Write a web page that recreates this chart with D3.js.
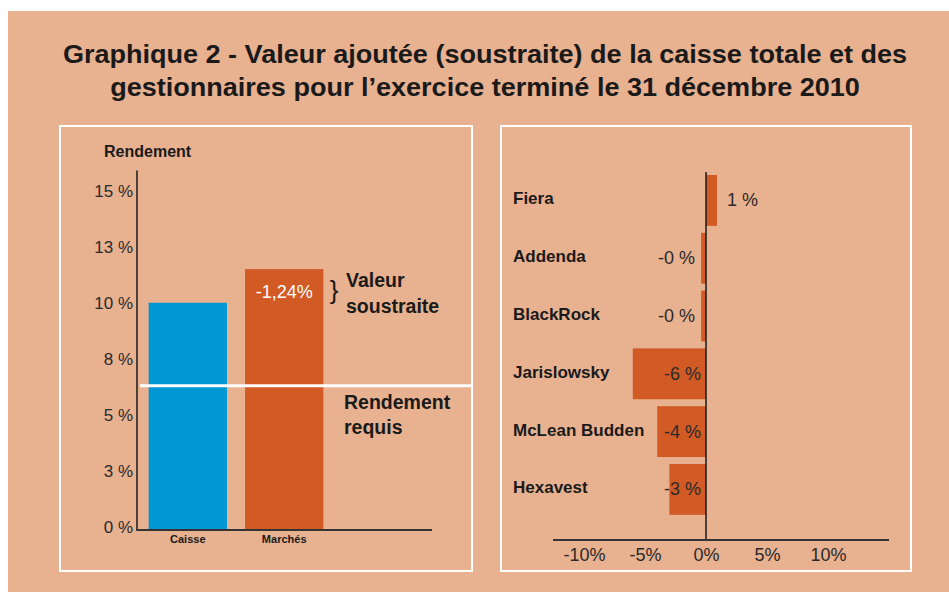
<!DOCTYPE html>
<html>
<head>
<meta charset="utf-8">
<script src="https://cdnjs.cloudflare.com/ajax/libs/d3/7.8.5/d3.min.js"></script>
<style>
  body { margin: 0; background: #fff; }
  svg { display: block; }
  text { font-family: "Liberation Sans", Arial, sans-serif; }
</style>
</head>
<body>
<script>
// left chart: rendement of caisse vs markets
var returnCats = ["Caisse", "Marchés"];
var returnValues = [10.1, 11.6];
var requiredReturn = 6.4;
var returnTicks = [0, 2.5, 5, 7.5, 10, 12.5, 15];
var gapLabel = "-1,24%";

// right chart: added value by manager
var managers = ["Fiera", "Addenda", "BlackRock", "Jarislowsky", "McLean Budden", "Hexavest"];
var managerValues = [0.9, -0.4, -0.4, -6.0, -4.0, -3.0];
var managerTicks = [-10, -5, 0, 5, 10];

var titleLines = [
    "Graphique 2 - Valeur ajoutée (soustraite) de la caisse totale et des",
    "gestionnaires pour l\u2019exercice terminé le 31 décembre 2010"
];

var W = 949, H = 592;
var bg = "#E8B190", orange = "#D15A25", blue = "#0097D5", ink = "#1a1a1a";

var svg = d3.select("body").append("svg")
    .attr("width", W)
    .attr("height", H);

svg.append("rect")
    .attr("x", 8).attr("y", 11)
    .attr("width", W - 8).attr("height", H - 11)
    .attr("fill", bg);

// title: tall condensed look, squeezed so line 1 spans the original width
var title = svg.append("g");
var titleText = title.selectAll("text")
    .data(titleLines)
    .enter().append("text")
    .attr("x", 0).attr("y", 0)
    .attr("text-anchor", "middle")
    .style("font-weight", "bold")
    .style("font-size", "25.5px")
    .attr("fill", ink)
    .text(function(d) { return d; });
var sx = 845 / titleText.node().getComputedTextLength();
titleText.attr("transform", function(d, i) {
    return "translate(485," + (63 + i * 33) + ") scale(" + sx + ",1)";
});

// panel frames
[[60, 472], [501, 911]].forEach(function(p) {
    svg.append("rect")
        .attr("x", p[0]).attr("y", 126)
        .attr("width", p[1] - p[0]).attr("height", 445)
        .attr("fill", "none")
        .attr("stroke", "#fff")
        .attr("stroke-width", 2);
});

// ---------- left chart ----------
var y = d3.scaleLinear().domain([0, 15]).range([529, 193]);
var xl = d3.scaleBand().domain(returnCats)
    .range([140, 332]).paddingInner(0.1875).paddingOuter(0.09);
var axisX = 137;

var left = svg.append("g");

left.selectAll("rect.bar")
    .data(returnCats)
    .enter().append("rect")
    .attr("class", "bar")
    .attr("x", function(d) { return xl(d); })
    .attr("width", xl.bandwidth())
    .attr("y", function(d, i) { return y(returnValues[i]); })
    .attr("height", function(d, i) { return y(0) - y(returnValues[i]) + 1; })
    .attr("fill", function(d, i) { return i === 0 ? blue : orange; });

var yAxis = left.append("g")
    .attr("transform", "translate(" + axisX + ",0)")
    .call(d3.axisLeft(y)
        .tickValues(returnTicks)
        .tickSize(0)
        .tickPadding(4)
        .tickFormat(function(d) { return Math.round(d) + " %"; }));
yAxis.select(".domain").remove();
yAxis.selectAll("text")
    .attr("dy", "0.2em")
    .style("font-size", "17px")
    .style("font-family", "'Liberation Sans', sans-serif")
    .attr("fill", "#2a2a2a");

left.append("line")
    .attr("x1", axisX).attr("x2", axisX)
    .attr("y1", y(16)).attr("y2", y(0) + 2)
    .attr("stroke", ink).attr("stroke-width", 1.5);
left.append("line")
    .attr("x1", axisX).attr("x2", 432)
    .attr("y1", y(0) + 1).attr("y2", y(0) + 1)
    .attr("stroke", "#333").attr("stroke-width", 2);

left.append("text")
    .attr("x", 104).attr("y", 157)
    .style("font-size", "16px").style("font-weight", "bold")
    .attr("fill", ink)
    .text("Rendement");

left.selectAll("text.cat")
    .data(returnCats)
    .enter().append("text")
    .attr("class", "cat")
    .attr("x", function(d) { return xl(d) + xl.bandwidth() / 2; })
    .attr("y", y(0) + 14)
    .attr("text-anchor", "middle")
    .style("font-size", "11px").style("font-weight", "bold")
    .attr("fill", ink)
    .text(function(d) { return d; });

// required return line
left.append("line")
    .attr("x1", axisX + 3).attr("x2", 471)
    .attr("y1", y(requiredReturn)).attr("y2", y(requiredReturn))
    .attr("stroke", "#fff").attr("stroke-width", 3);

left.append("text")
    .attr("x", xl("Marchés") + xl.bandwidth() / 2)
    .attr("y", y(returnValues[1]) + 29)
    .attr("text-anchor", "middle")
    .style("font-size", "18px")
    .attr("fill", "#fff")
    .text(gapLabel);

left.append("text")
    .attr("x", 334).attr("y", 299)
    .attr("text-anchor", "middle")
    .style("font-size", "26px")
    .attr("fill", ink)
    .text("}");

var notes = [
    {t: "Valeur", x: 346, y: 287},
    {t: "soustraite", x: 346, y: 313},
    {t: "Rendement", x: 344, y: 409},
    {t: "requis", x: 344, y: 434}
];
left.selectAll("text.note")
    .data(notes)
    .enter().append("text")
    .attr("class", "note")
    .attr("x", function(d) { return d.x; })
    .attr("y", function(d) { return d.y; })
    .style("font-size", "19.5px").style("font-weight", "bold")
    .attr("fill", ink)
    .text(function(d) { return d.t; });

// ---------- right chart ----------
var x = d3.scaleLinear().domain([-10, 10]).range([584, 828]);
var yr = d3.scaleBand().domain(managers)
    .range([171.5, 518.3]).paddingInner(0.12).paddingOuter(0.06);

var right = svg.append("g");

right.selectAll("rect.bar")
    .data(managers)
    .enter().append("rect")
    .attr("class", "bar")
    .attr("x", function(d, i) { return x(Math.min(0, managerValues[i])); })
    .attr("width", function(d, i) { return Math.abs(x(managerValues[i]) - x(0)); })
    .attr("y", function(d) { return yr(d); })
    .attr("height", yr.bandwidth())
    .attr("fill", orange);

right.append("line")
    .attr("x1", x(0)).attr("x2", x(0))
    .attr("y1", 172).attr("y2", 541)
    .attr("stroke", ink).attr("stroke-width", 1.5);
right.append("line")
    .attr("x1", 553).attr("x2", 889)
    .attr("y1", 540).attr("y2", 540)
    .attr("stroke", "#333").attr("stroke-width", 2);

var xAxis = right.append("g")
    .attr("transform", "translate(0,544)")
    .call(d3.axisBottom(x)
        .tickValues(managerTicks)
        .tickSize(0)
        .tickPadding(0)
        .tickFormat(function(d) { return (d < 0 ? "-" : "") + Math.abs(d) + "%"; }));
xAxis.select(".domain").remove();
xAxis.selectAll("text")
    .attr("dy", "0.95em")
    .style("font-size", "18px")
    .style("font-family", "'Liberation Sans', sans-serif")
    .attr("fill", "#2a2a2a");

right.selectAll("text.name")
    .data(managers)
    .enter().append("text")
    .attr("class", "name")
    .attr("x", 513)
    .attr("y", function(d) { return yr(d) + yr.bandwidth() / 2 + 4; })
    .style("font-size", "17px").style("font-weight", "bold")
    .attr("fill", ink)
    .text(function(d) { return d; });

function pctLabel(v) {
    var r = Math.round(Math.abs(v));
    return (v < 0 ? "-" : "") + r + " %";
}

right.selectAll("text.val")
    .data(managerValues)
    .enter().append("text")
    .attr("class", "val")
    .attr("x", function(v) {
        if (v >= 0) return x(v) + 10;
        if (x(0) - x(v) > 30) return x(0) - 5;
        return x(v) - 6;
    })
    .attr("y", function(v, i) { return yr(managers[i]) + yr.bandwidth() / 2 + 6; })
    .attr("text-anchor", function(v) { return v >= 0 ? "start" : "end"; })
    .style("font-size", "18px")
    .attr("fill", "#2a2a2a")
    .text(pctLabel);
</script>
</body>
</html>
